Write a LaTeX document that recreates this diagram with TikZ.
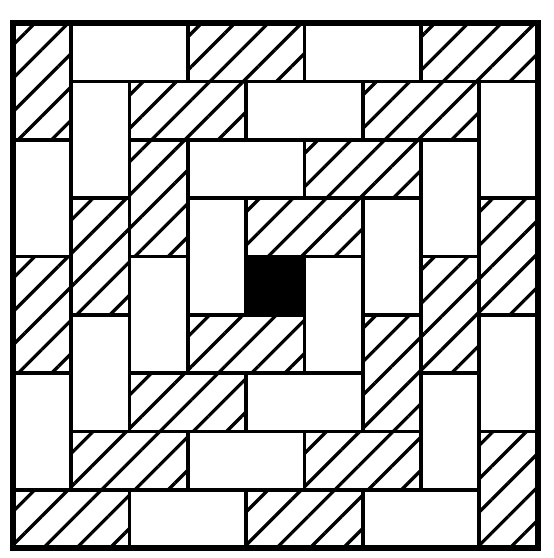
\documentclass[tikz,border=0pt]{standalone}
\usepackage{tikz}
\usetikzlibrary{patterns.meta}

\begin{document}
\begin{tikzpicture}[x=1cm,y=1cm,
  tile/.style={draw,line width=1.8pt,line join=round},
  hatched/.style={tile,pattern={Lines[angle=45,distance=11.5pt,line width=1.6pt]}}]
  \useasboundingbox (-0.22,-0.17) rectangle (9.265,9.40);
  % hatched dominoes, ring by ring from the outside in
  \foreach \xa/\ya/\xb/\yb in {0/7/1/9, 3/8/5/9, 7/8/9/9, 8/4/9/6, 8/0/9/2, 4/0/6/1, 0/0/2/1, 0/3/1/5,
      2/7/4/8, 6/7/8/8, 7/3/8/5, 5/1/7/2, 1/1/3/2, 1/4/2/6,
      2/5/3/7, 5/6/7/7, 6/2/7/4, 2/2/4/3,
      4/5/6/6, 3/3/5/4}
    \draw[hatched] (\xa,\ya) rectangle (\xb,\yb);
  % white dominoes
  \foreach \xa/\ya/\xb/\yb in {1/8/3/9, 5/8/7/9, 8/6/9/8, 8/2/9/4, 6/0/8/1, 2/0/4/1, 0/1/1/3, 0/5/1/7,
      1/6/2/8, 4/7/6/8, 7/5/8/7, 7/1/8/3, 3/1/5/2, 1/2/2/4,
      3/6/5/7, 6/4/7/6, 4/2/6/3, 2/3/3/5,
      3/4/4/6, 5/3/6/5}
    \draw[tile] (\xa,\ya) rectangle (\xb,\yb);
  \fill (4,4) rectangle (5,5); % centre square
  \draw[line width=3pt] (0,0) rectangle (9,9);
\end{tikzpicture}
\end{document}
